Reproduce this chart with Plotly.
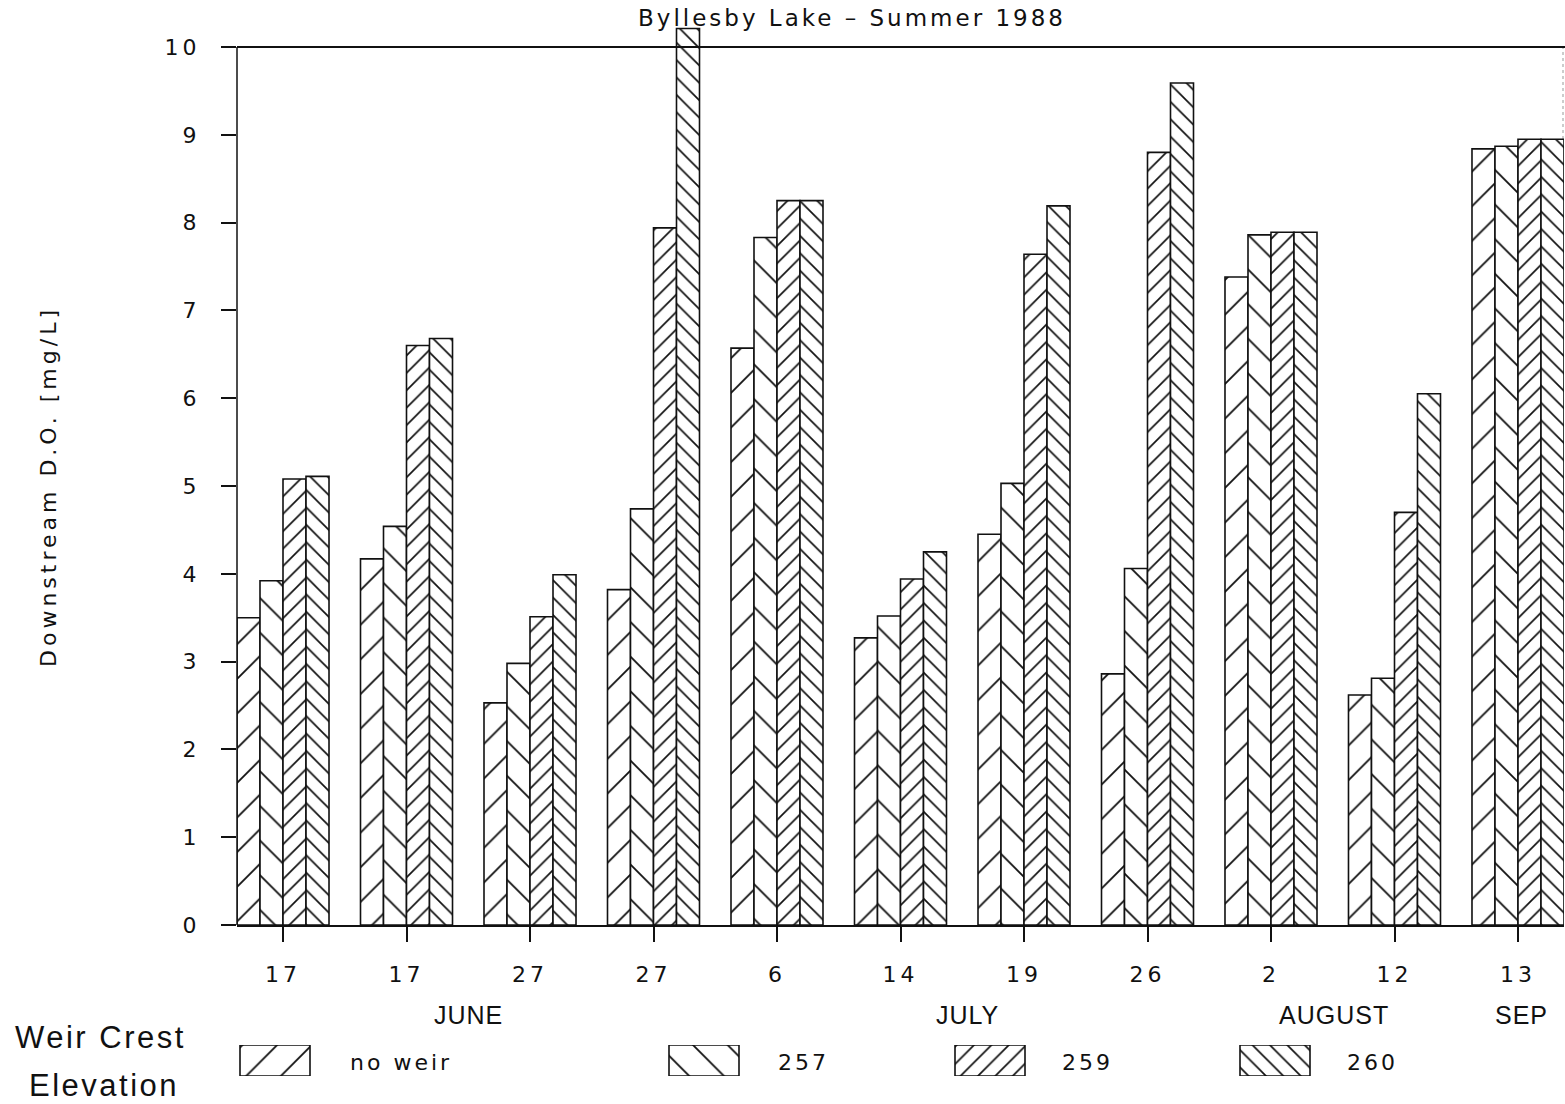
import plotly.graph_objects as go

# ---------------- data ----------------
day_labels = ["17", "17", "27", "27", "6", "14", "19", "26", "2", "12", "13"]
series_names = ["no weir", "257", "259", "260"]
no_weir = [3.50, 4.17, 2.53, 3.82, 6.57, 3.27, 4.45, 2.86, 7.38, 2.62, 8.84]
elev_257 = [3.92, 4.54, 2.98, 4.74, 7.83, 3.52, 5.03, 4.06, 7.86, 2.81, 8.87]
elev_259 = [5.08, 6.60, 3.51, 7.94, 8.25, 3.94, 7.64, 8.80, 7.89, 4.70, 8.95]
elev_260 = [5.11, 6.68, 3.99, 10.21, 8.25, 4.25, 8.19, 9.59, 7.89, 6.05, 8.95]
month_labels = ["JUNE", "JULY", "AUGUST", "SEP"]
month_pos = [1.5, 5.54, 8.51, 10.03]
y_ticks = list(range(0, 11))

# ---------------- layout geometry ----------------
W, H = 1565, 1104
PL, PR = 237, 1564          # plot left/right px
Y0, Y10 = 925, 47           # pixel rows of y=0 and y=10
YMAX = 10.3
ppu = (Y0 - Y10) / 10.0
ytop_px = Y0 - YMAX * ppu
xdom = [PL / W, PR / W]
ydom = [1 - Y0 / H, 1 - ytop_px / H]

pattern_styles = [
    dict(shape="/", size=24.5, solidity=0.075),
    dict(shape="\\", size=24.5, solidity=0.075),
    dict(shape="/", size=12.3, solidity=0.14),
    dict(shape="\\", size=12.3, solidity=0.14),
]

FONT = "DejaVu Sans"
INK = "#111111"


def spaced(s, px):
    return '<span style="letter-spacing:%gpx">%s</span>' % (px, s)


fig = go.Figure()
xs = list(range(len(day_labels)))
for name, vals, pat in zip(series_names, [no_weir, elev_257, elev_259, elev_260], pattern_styles):
    fig.add_trace(go.Bar(
        x=xs, y=vals, name=name, showlegend=False,
        marker=dict(color="white", line=dict(color=INK, width=1.6),
                    pattern=dict(fgcolor=INK, bgcolor="white", fillmode="replace", **pat)),
        xaxis="x", yaxis="y",
    ))

# legend swatches drawn on a hidden helper axis
sw_centers = [275, 704, 990, 1275]
sw_label_x = [401, 803, 1087, 1372]
for name, pat, cx in zip(series_names, pattern_styles, sw_centers):
    fig.add_trace(go.Bar(
        x=[cx], y=[1], base=0, width=70, showlegend=False, hoverinfo="skip",
        marker=dict(color="white", line=dict(color=INK, width=1.6),
                    pattern=dict(fgcolor=INK, bgcolor="white", fillmode="replace", **pat)),
        xaxis="x2", yaxis="y2",
    ))

annotations = []
for name, lx in zip(series_names, sw_label_x):
    annotations.append(dict(text=spaced(name, 3), xref="paper", yref="paper", x=lx / W, y=1 - 1062 / H,
                            showarrow=False, xanchor="center", yanchor="middle",
                            font=dict(family=FONT, size=22, color=INK)))
for m, p in zip(month_labels, month_pos):
    annotations.append(dict(text=spaced(m, 1), xref="x", yref="paper", x=p, y=1 - 1015 / H,
                            showarrow=False, xanchor="center", yanchor="middle",
                            font=dict(family="Liberation Sans", size=25, color=INK)))
annotations += [
    dict(text=spaced("Weir Crest", 2.5), xref="paper", yref="paper", x=101 / W, y=1 - 1037 / H,
         showarrow=False, xanchor="center", yanchor="middle",
         font=dict(family="Liberation Sans", size=31, color=INK)),
    dict(text=spaced("Elevation", 2.5), xref="paper", yref="paper", x=104 / W, y=1 - 1085 / H,
         showarrow=False, xanchor="center", yanchor="middle",
         font=dict(family="Liberation Sans", size=31, color=INK)),
    dict(text=spaced("Byllesby Lake – Summer 1988", 3), xref="paper", yref="paper", x=852 / W,
         y=1 - 18 / H, showarrow=False, xanchor="center", yanchor="middle",
         font=dict(family=FONT, size=23, color=INK)),
    dict(text=spaced("Downstream D.O. [mg/L]", 4), xref="paper", yref="paper", x=48 / W,
         y=1 - 487 / H, showarrow=False, xanchor="center", yanchor="middle", textangle=-90,
         font=dict(family=FONT, size=22, color=INK)),
]

shapes = [
    # top frame line at y=10
    dict(type="line", xref="paper", yref="y", x0=PL / W, x1=1, y0=10, y1=10,
         line=dict(color=INK, width=1.8), layer="above"),
    # left axis line
    dict(type="line", xref="paper", yref="y", x0=PL / W, x1=PL / W, y0=0, y1=10,
         line=dict(color=INK, width=1.5), layer="above"),
    # faint right edge
    dict(type="line", xref="paper", yref="y", x0=(W - 2) / W, x1=(W - 2) / W, y0=0, y1=10,
         line=dict(color="#999999", width=1, dash="dot"), layer="below"),
]

fig.update_layout(
    template="none",
    width=W, height=H,
    margin=dict(l=0, r=0, t=0, b=0),
    paper_bgcolor="white", plot_bgcolor="rgba(0,0,0,0)",
    barmode="group", bargap=0.255, bargroupgap=0,
    showlegend=False,
    xaxis=dict(domain=xdom, range=[-0.3725, 10.3725], tickmode="array", tickvals=xs,
               ticktext=[spaced(t, 4) for t in day_labels], ticks="outside", ticklen=15,
               tickwidth=1.5, tickcolor=INK,
               showline=True, linecolor=INK, linewidth=1.8, showgrid=False, zeroline=False,
               automargin=False, ticklabelstandoff=14,
               tickfont=dict(family=FONT, size=22, color=INK), anchor="y", fixedrange=True),
    yaxis=dict(domain=ydom, range=[0, YMAX], tickmode="array", tickvals=y_ticks,
               ticktext=[spaced(str(t), 4) for t in y_ticks],
               ticks="outside", ticklen=15, tickwidth=1.5, tickcolor=INK,
               showline=False, showgrid=False, zeroline=False, automargin=False,
               ticklabelstandoff=16,
               tickfont=dict(family=FONT, size=22, color=INK), anchor="x", fixedrange=True),
    xaxis2=dict(domain=[0, 1], range=[0, W], visible=False, anchor="y2", fixedrange=True),
    yaxis2=dict(domain=[1 - 1076 / H, 1 - 1045 / H], range=[0, 1], visible=False,
                anchor="x2", fixedrange=True),
    annotations=annotations,
    shapes=shapes,
)

fig.write_html("out.html")
